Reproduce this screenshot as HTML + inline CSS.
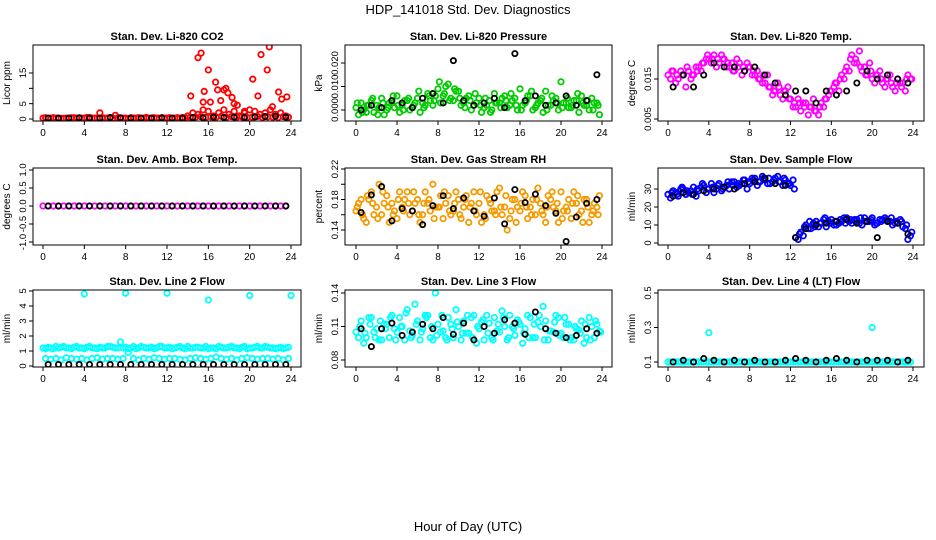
<!DOCTYPE html>
<html><head><meta charset="utf-8"><style>
html,body{margin:0;padding:0;background:#fff;}
svg{display:block;font-family:"Liberation Sans",sans-serif;}
</style></head><body>
<svg id="chart" width="936" height="540" viewBox="0 0 936 540">
<text x="468" y="14" text-anchor="middle" font-size="13">HDP_141018  Std. Dev. Diagnostics</text>
<text x="468" y="531" text-anchor="middle" font-size="13">Hour of Day (UTC)</text>
</svg>
<script>
// ---------- data ----------
const xTicks = [0,4,8,12,16,20,24];
// Panel 1 CO2
const co2Red = [0.3,0.3,0.4,0.3,0.2,0.3,0.4,0.3,0.3,0.5,0.3,2.0,0.3,0.4,1.2,0.3,0.3,0.4,0.3,0.3,0.5,0.3,0.3,0.4,0.3,0.3,0.4,0.5,1.0,2.0,1.5,3.0,2.5,1.0,2.0,3.0,1.5,2.5,1.0,2.0,3.0,2.5,1.5,2.0,3.0,1.5,2.0,1.0];
const co2Base = [0.4,0.3,0.3,0.2,0.3,0.4,0.3,0.3,0.5,0.3,0.3,0.4,0.3,0.3,0.4,0.3,0.2,0.3,0.4,0.3,0.3,0.4,0.3,0.3,0.4,0.3,0.3,0.4,0.5,0.6,0.8,0.5,0.7,0.6,0.9,0.5,0.8,0.6,0.7,0.5,0.6,0.8,0.5,0.7,0.6,0.5,0.8,0.6];
const co2SpikeHours = [14.3,15,15.3,15.6,16,16.2,16.7,16.9,17.2,17.7,17.9,18.3,18.5,18.8,20.3,20.8,21.1,21.7,21.9,22.2,22.8,23.1,23.6,15.5,17.5,19.5];
const co2SpikeVals = [7.5,20,21.5,9,16,5.5,12,9.5,6,10,8.5,7,5,4.5,13,7.5,21,16,23.5,4,8.8,6.5,7.2,5.5,9.5,2.5];
const co2Black = [0.3,0.3,0.3,0.4,0.3,0.3,0.5,0.4,0.3,0.3,0.3,0.4,0.3,0.3,0.5,0.4,0.6,0.5,0.6,0.5,0.7,0.8,0.9,0.6];
// Panel 2 Pressure
const presA = [0.001,0.003,-0.001,0.004,0.002,0.005,0.000,0.003,0.006,0.002,0.004,0.001,0.005,0.003,0.007,0.002,0.009,0.006,0.011,0.004,0.008,0.003,0.006,0.002,0.005,0.001,0.004,0.007,0.003,0.006,0.002,0.005,0.009,0.003,0.006,0.001,0.004,0.008,0.002,0.005,0.012,0.003,0.001,0.004,0.006,0.002,0.005,0.003];
const presB = [-0.002,0.000,0.002,-0.001,0.001,-0.002,0.003,0.001,-0.001,0.004,0.000,0.003,-0.001,0.002,0.004,0.006,0.003,0.010,0.005,0.008,0.002,0.005,0.000,0.003,-0.001,0.002,0.000,0.003,0.005,0.001,0.004,0.000,0.002,0.006,0.000,0.003,-0.001,0.002,0.004,0.000,0.003,0.001,0.004,-0.001,0.002,0.000,0.003,-0.002];
const presC = [0.003,-0.001,0.002,0.005,-0.002,0.003,0.001,0.006,0.002,0.000,0.005,0.002,0.008,0.001,0.006,0.004,0.012,0.007,0.004,0.009,0.005,0.001,0.004,0.007,0.002,0.005,-0.001,0.003,0.001,0.004,0.007,0.002,0.000,0.004,0.008,0.002,0.005,0.000,0.006,0.003,0.001,0.005,0.002,0.007,0.003,0.004,0.000,0.002];
const presBlack = [0.000,0.002,0.001,0.004,0.003,0.001,0.005,0.007,0.003,0.021,0.004,0.002,0.003,0.005,0.001,0.024,0.004,0.006,0.002,0.003,0.006,0.002,0.004,0.015];
// Panel 3 Temp
const tempA = [0.016,0.017,0.015,0.016,0.017,0.016,0.018,0.019,0.020,0.021,0.019,0.020,0.018,0.017,0.019,0.017,0.018,0.016,0.015,0.014,0.013,0.012,0.011,0.012,0.010,0.008,0.007,0.009,0.008,0.007,0.009,0.010,0.012,0.014,0.016,0.018,0.021,0.019,0.017,0.016,0.015,0.016,0.014,0.015,0.013,0.015,0.014,0.016];
const tempB = [0.015,0.014,0.017,0.013,0.015,0.018,0.017,0.020,0.019,0.018,0.021,0.018,0.019,0.020,0.016,0.019,0.016,0.017,0.014,0.016,0.011,0.014,0.010,0.013,0.008,0.010,0.009,0.006,0.010,0.006,0.008,0.011,0.013,0.012,0.015,0.017,0.019,0.022,0.018,0.019,0.014,0.017,0.013,0.016,0.012,0.014,0.012,0.015];
const tempC = [0.017,0.016,0.016,0.018,0.016,0.017,0.019,0.021,0.020,0.020,0.020,0.019,0.017,0.018,0.018,0.018,0.017,0.015,0.016,0.013,0.012,0.013,0.012,0.010,0.009,0.009,0.008,0.008,0.007,0.008,0.010,0.012,0.014,0.015,0.017,0.020,0.020,0.018,0.016,0.017,0.016,0.015,0.015,0.014,0.014,0.013,0.015,0.015];
const tempBlack = [0.013,0.016,0.013,0.016,0.019,0.018,0.018,0.017,0.018,0.016,0.014,0.011,0.012,0.012,0.009,0.012,0.011,0.012,0.014,0.017,0.015,0.016,0.015,0.014];
// Panel 4 Amb box temp
const ambA = [0,0,0,0,0,0,0,0,0,0,0,0,0,0,0,0,0,0,0,0,0,0,0,0,0,0,0,0,0,0,0,0,0,0,0,0,0,0,0,0,0,0,0,0,0,0,0,0];
const ambBlack = [0,0,0,0,0,0,0,0,0,0,0,0,0,0,0,0,0,0,0,0,0,0,0,0];
// Panel 5 RH
const rhA = [0.165,0.18,0.15,0.19,0.17,0.16,0.185,0.175,0.155,0.17,0.19,0.165,0.18,0.16,0.175,0.2,0.17,0.155,0.185,0.165,0.18,0.17,0.15,0.19,0.175,0.16,0.18,0.165,0.195,0.17,0.155,0.18,0.165,0.185,0.17,0.16,0.175,0.15,0.18,0.165,0.19,0.17,0.155,0.175,0.165,0.18,0.16,0.17];
const rhB = [0.175,0.155,0.18,0.16,0.2,0.175,0.15,0.165,0.19,0.18,0.16,0.175,0.15,0.19,0.165,0.17,0.185,0.175,0.16,0.19,0.155,0.185,0.175,0.16,0.15,0.185,0.165,0.19,0.16,0.14,0.18,0.17,0.19,0.155,0.18,0.195,0.16,0.185,0.17,0.15,0.165,0.18,0.19,0.16,0.18,0.15,0.175,0.185];
const rhC = [0.17,0.16,0.185,0.175,0.155,0.19,0.17,0.16,0.18,0.165,0.175,0.19,0.16,0.175,0.18,0.155,0.17,0.19,0.165,0.175,0.16,0.18,0.17,0.165,0.19,0.155,0.175,0.16,0.17,0.185,0.165,0.15,0.175,0.17,0.16,0.18,0.165,0.17,0.19,0.175,0.155,0.165,0.175,0.185,0.15,0.17,0.165,0.16];
const rhBlack = [0.163,0.186,0.197,0.152,0.168,0.165,0.147,0.172,0.185,0.168,0.182,0.165,0.158,0.182,0.148,0.193,0.176,0.187,0.172,0.162,0.125,0.157,0.175,0.18];
// Panel 6 Sample flow
const flowA = [27,29,26,30,28,31,29,32,30,28,33,31,30,34,32,35,33,36,34,35,33,36,34,35,32,3,6,10,8,12,11,9,13,10,12,14,11,13,10,12,14,11,13,12,10,11,9,2];
const flowB = [25,28,30,27,29,26,31,28,33,30,29,32,34,31,33,30,36,32,37,33,34,37,32,33,35,2,4,8,11,9,13,12,10,11,14,12,13,11,14,12,10,13,14,12,11,13,8,4];
const flowC = [28,27,31,29,27,30,33,30,31,32,30,34,32,33,35,34,35,34,36,36,35,34,36,33,30,5,9,12,9,11,14,11,12,13,11,13,12,14,12,13,11,12,13,14,12,12,10,6];
const flowBlack = [26,28,27,29,30,31,30,33,34,36,33,32,3,8,10,11,12,13,11,12,3,12,11,5];
// Panel 7 Line 2 flow
const l2A = [1.2,1.25,1.15,1.2,1.3,1.2,1.25,1.2,1.15,1.3,1.2,1.25,1.2,1.3,1.2,1.6,1.25,1.2,1.15,1.3,1.2,1.25,1.2,1.3,1.2,1.15,1.25,1.2,1.3,1.2,1.25,1.2,1.15,1.2,1.3,1.2,1.25,1.2,1.15,1.3,1.2,1.25,1.2,1.3,1.2,1.15,1.25,1.2];
const l2B = [0.5,0.45,0.5,0.4,0.55,0.5,0.45,0.5,0.4,0.5,0.55,0.45,0.5,0.5,0.45,0.5,0.9,0.5,0.4,0.5,0.45,0.55,0.5,0.45,0.5,0.5,0.45,0.4,0.5,0.55,0.5,0.45,0.5,0.6,0.5,0.45,0.5,0.4,0.5,0.55,0.5,0.45,0.5,0.5,0.45,0.5,0.4,0.5];
const l2C = [1.15,1.2,1.3,1.25,1.2,1.15,1.3,1.2,1.25,1.2,1.15,1.2,1.3,1.25,1.2,1.2,1.15,1.3,1.2,1.25,1.2,1.15,1.3,1.2,1.25,1.2,1.3,1.15,1.2,1.25,1.2,1.3,1.2,1.15,1.25,1.2,1.3,1.2,1.25,1.15,1.2,1.3,1.2,1.25,1.2,1.2,1.15,1.25];
const l2OutHours = [4,8,12,16,20,24];
const l2OutVals = [4.8,4.85,4.85,4.4,4.7,4.7];
const l2Black = [0.1,0.1,0.1,0.1,0.1,0.1,0.1,0.1,0.1,0.1,0.1,0.1,0.1,0.1,0.1,0.1,0.1,0.1,0.1,0.1,0.1,0.1,0.1,0.1];
// Panel 8 Line 3 flow
const l3A = [0.105,0.115,0.1,0.118,0.108,0.098,0.112,0.12,0.105,0.11,0.125,0.102,0.115,0.108,0.12,0.098,0.112,0.106,0.118,0.1,0.11,0.115,0.104,0.12,0.108,0.098,0.113,0.118,0.105,0.11,0.12,0.102,0.112,0.108,0.118,0.1,0.11,0.115,0.106,0.12,0.104,0.112,0.1,0.108,0.115,0.1,0.11,0.112];
const l3B = [0.1,0.095,0.118,0.105,0.098,0.112,0.1,0.108,0.118,0.098,0.106,0.13,0.098,0.12,0.1,0.14,0.105,0.1,0.112,0.125,0.098,0.104,0.118,0.095,0.114,0.12,0.1,0.106,0.124,0.098,0.11,0.116,0.095,0.12,0.1,0.114,0.128,0.098,0.105,0.118,0.1,0.112,0.098,0.107,0.095,0.118,0.1,0.106];
const l3C = [0.11,0.104,0.112,0.1,0.115,0.108,0.118,0.098,0.11,0.122,0.1,0.112,0.105,0.118,0.11,0.102,0.12,0.098,0.108,0.114,0.104,0.12,0.1,0.11,0.116,0.104,0.098,0.112,0.118,0.1,0.108,0.114,0.104,0.1,0.112,0.12,0.098,0.106,0.114,0.102,0.118,0.098,0.11,0.104,0.112,0.098,0.115,0.105];
const l3Black = [0.108,0.092,0.108,0.113,0.102,0.105,0.112,0.108,0.118,0.103,0.113,0.098,0.11,0.104,0.116,0.113,0.103,0.123,0.108,0.104,0.1,0.102,0.108,0.104];
// Panel 9 Line 4 flow
const l4A = [0.1,0.1,0.1,0.1,0.1,0.1,0.1,0.1,0.1,0.1,0.1,0.1,0.1,0.1,0.1,0.1,0.1,0.1,0.1,0.1,0.1,0.1,0.1,0.1,0.1,0.1,0.1,0.1,0.1,0.1,0.1,0.1,0.1,0.1,0.1,0.1,0.1,0.1,0.1,0.1,0.1,0.1,0.1,0.1,0.1,0.1,0.1,0.1];
const l4B = [0.1,0.1,0.1,0.1,0.1,0.1,0.1,0.1,0.1,0.1,0.1,0.1,0.1,0.1,0.1,0.1,0.1,0.1,0.1,0.1,0.1,0.1,0.1,0.1,0.1,0.1,0.1,0.1,0.1,0.1,0.1,0.1,0.1,0.1,0.1,0.1,0.1,0.1,0.1,0.1,0.1,0.1,0.1,0.1,0.1,0.1,0.1,0.1];
const l4OutHours = [4,12,20];
const l4OutVals = [0.27,0.6,0.3];
const l4Black = [0.1,0.11,0.1,0.12,0.11,0.1,0.11,0.1,0.11,0.1,0.1,0.11,0.12,0.11,0.1,0.11,0.12,0.11,0.1,0.11,0.11,0.11,0.1,0.11];

// ---------- rendering ----------
const NS = "http://www.w3.org/2000/svg";
const svg = document.getElementById('chart');
function mk(tag, attrs, parent){const e=document.createElementNS(NS,tag);for(const k in attrs)e.setAttribute(k,attrs[k]);(parent||svg).appendChild(e);return e;}
const cols = [{l:33,r:301,x0:43,x24:291},{l:345,r:612,x0:356,x24:602},{l:658,r:924,x0:668,x24:913}];
const rows = [{t:45,b:121},{t:168,b:245},{t:290,b:367}];
const panels = [
 {name:'co2',title:'Stan. Dev. Li-820 CO2',yl:'Licor ppm',c:0,r:0,v0:0,p0:119,v1:15,p1:73,ticks:[0,5,10,15],tl:['0','5','','15'],color:'#ff0000',series:[[co2Red,0,0.5],[co2Base,0.25,0.5],[co2SpikeVals,co2SpikeHours]],black:co2Black},
 {name:'pressure',title:'Stan. Dev. Li-820 Pressure',yl:'kPa',c:1,r:0,v0:0,p0:110,v1:0.02,p1:63,ticks:[0,0.01,0.02],tl:['0.000','0.010','0.020'],color:'#00cc00',series:[[presA,0,0.5],[presB,0.25,0.5],[presC,0.125,0.5]],black:presBlack},
 {name:'temp',title:'Stan. Dev. Li-820 Temp.',yl:'degrees C',c:2,r:0,v0:0.005,p0:119,v1:0.015,p1:79,ticks:[0.005,0.015],tl:['0.005','0.015'],color:'#ff00ff',series:[[tempA,0,0.5],[tempB,0.25,0.5],[tempC,0.375,0.5]],black:tempBlack},
 {name:'amb-temp',title:'Stan. Dev. Amb. Box Temp.',yl:'degrees C',c:0,r:1,v0:0,p0:206,v1:1,p1:170,ticks:[-1,-0.5,0,0.5,1],tl:['-1.0','-0.5','0.0','0.5','1.0'],color:'#ff00ff',series:[[ambA,0,0.5]],black:ambBlack},
 {name:'rh',title:'Stan. Dev. Gas Stream RH',yl:'percent',c:1,r:1,v0:0.14,p0:230,v1:0.22,p1:169,ticks:[0.14,0.16,0.18,0.2,0.22],tl:['0.14','','0.18','','0.22'],color:'#f59a00',series:[[rhA,0,0.5],[rhB,0.25,0.5],[rhC,0.125,0.5]],black:rhBlack},
 {name:'sample-flow',title:'Stan. Dev. Sample Flow',yl:'ml/min',c:2,r:1,v0:0,p0:243,v1:30,p1:189,ticks:[0,10,20,30],tl:['0','10','20','30'],color:'#0000ff',series:[[flowA,0,0.5],[flowB,0.25,0.5],[flowC,0.375,0.5]],black:flowBlack},
 {name:'line2-flow',title:'Stan. Dev. Line 2 Flow',yl:'ml/min',c:0,r:2,v0:0,p0:366,v1:5,p1:291,ticks:[0,1,2,3,4,5],tl:['0','1','2','3','4','5'],color:'#00ffff',series:[[l2A,0,0.5],[l2B,0.25,0.5],[l2C,0.25,0.5],[l2OutVals,l2OutHours]],black:l2Black},
 {name:'line3-flow',title:'Stan. Dev. Line 3 Flow',yl:'ml/min',c:1,r:2,v0:0.08,p0:360,v1:0.14,p1:293,ticks:[0.08,0.11,0.14],tl:['0.08','0.11','0.14'],color:'#00ffff',series:[[l3A,0,0.5],[l3B,0.25,0.5],[l3C,0.375,0.5]],black:l3Black},
 {name:'line4-flow',title:'Stan. Dev. Line 4 (LT) Flow',yl:'ml/min',c:2,r:2,v0:0.1,p0:362,v1:0.5,p1:293,ticks:[0.1,0.3,0.5],tl:['0.1','0.3','0.5'],color:'#00ffff',series:[[l4A,0,0.5],[l4B,0.25,0.5],[l4OutVals,l4OutHours]],black:l4Black}
];
panels.forEach(p=>{
  const C=cols[p.c], R=rows[p.r];
  const g=mk('g',{});
  
  
  const xs=h=>C.x0+(C.x24-C.x0)*h/24;
  const ys=v=>p.p0+(p.p1-p.p0)*(v-p.v0)/(p.v1-p.v0);
  const t=mk('text',{x:(C.l+C.r)/2,y:R.t-5,'text-anchor':'middle','font-size':'11','font-weight':'bold'},g);
  t.textContent=p.title;
  
  
  const cp=mk('clipPath',{id:'cp'+p.name},g);
  mk('rect',{x:C.l,y:R.t,width:C.r-C.l,height:R.b-R.t},cp);
  const pts=mk('g',{'clip-path':'url(#cp'+p.name+')'},g);
  p.series.forEach(s=>{
    const vals=s[0];
    vals.forEach((v,i)=>{
      const h=Array.isArray(s[1])?s[1][i]:s[1]+i*s[2];
      const c=mk('circle',{cx:xs(h),cy:ys(v),r:2.7,fill:'none',stroke:p.color,'stroke-width':1.8},pts);
      
      
    });
  });
  p.black.forEach((v,i)=>{
    const c=mk('circle',{cx:xs(0.5+i),cy:ys(v),r:2.6,fill:'none',stroke:'#000','stroke-width':1.8},pts);
    
    
  });
  const box=mk('rect',{x:C.l,y:R.t,width:C.r-C.l,height:R.b-R.t,fill:'none',stroke:'#000','stroke-width':1},g);
  
  
  const xa=mk('g',{},g);
  
  
  xTicks.forEach(h=>{
    mk('line',{x1:xs(h),x2:xs(h),y1:R.b,y2:R.b+4,stroke:'#000'},xa);
    const tt=mk('text',{x:xs(h),y:R.b+15,'text-anchor':'middle','font-size':'10'},xa);
    tt.textContent=h;
  });
  const ya=mk('g',{},g);
  
  
  p.ticks.forEach((v,i)=>{
    const y=ys(v);
    mk('line',{x1:C.l-4,x2:C.l,y1:y,y2:y,stroke:'#000'},ya);
    if(p.tl[i]){
      const tt=mk('text',{x:C.l-7,y:y,'text-anchor':'middle','font-size':'9.5',transform:`rotate(-90 ${C.l-7} ${y})`},ya);
      tt.textContent=p.tl[i];
    }
  });
  const cy=(R.t+R.b)/2;
  const yt=mk('text',{x:C.l-23,y:cy,'text-anchor':'middle','font-size':'10',transform:`rotate(-90 ${C.l-23} ${cy})`},g);
  yt.textContent=p.yl;
  
  
});
</script>
</body></html>
